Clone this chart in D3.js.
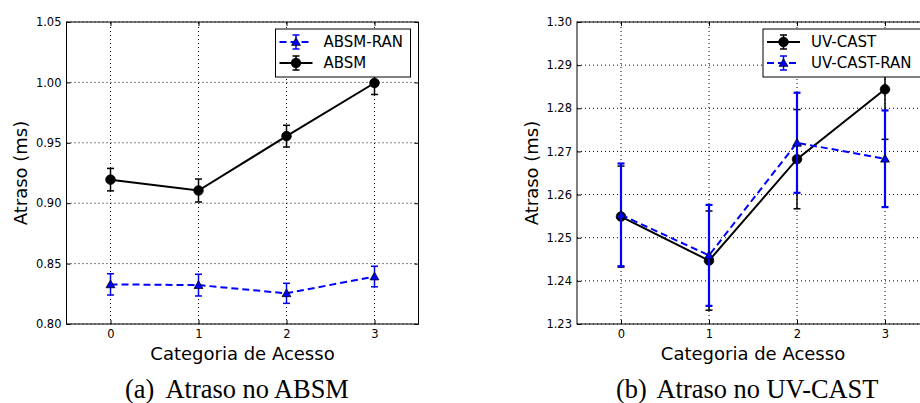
<!DOCTYPE html>
<html>
<head>
<meta charset="utf-8">
<script src="https://cdn.jsdelivr.net/npm/d3@7"></script>
<style>
  body { margin: 0; background: #fff; }
  svg { display: block; }
  .tick text { font-family: "DejaVu Sans", sans-serif; font-size: 11.5px; fill: #000; }
</style>
</head>
<body>
<div id="chart"></div>
<script>
// dados
const categories = [0, 1, 2, 3];

const yTicksA = [0.80, 0.85, 0.90, 0.95, 1.00, 1.05];
const absm = [0.9195, 0.9105, 0.9555, 0.9995];
const absmErr = [0.0093, 0.0095, 0.009, 0.0095];
const absmRan = [0.8328, 0.8322, 0.8254, 0.8393];
const absmRanErr = [0.0088, 0.009, 0.0083, 0.0085];

const yTicksB = [1.23, 1.24, 1.25, 1.26, 1.27, 1.28, 1.29, 1.30];
const uvcast = [1.2549, 1.2447, 1.2682, 1.2844];
const uvcastErr = [0.0117, 0.0115, 0.0115, 0.0116];
const uvcastRan = [1.2553, 1.2459, 1.2720, 1.2683];
const uvcastRanErr = [0.0119, 0.0117, 0.0116, 0.0112];

const width = 920;
const height = 403;
const blue = '#0000ff';

const svg = d3.select('#chart').append('svg')
    .attr('width', width)
    .attr('height', height);

svg.append('rect').attr('width', width).attr('height', height).attr('fill', '#fff');

/**
 * desenha um painel completo (eixos, grade, series, legenda)
 */
function drawPanel(p) {
  const x = d3.scaleLinear().domain([-0.5, 3.5]).range([p.left, p.left + 352]);
  const y = d3.scaleLinear().domain(p.yDomain).range([324, 22]);
  const g = svg.append('g');

  // grade pontilhada
  g.append('g').selectAll('line')
      .data(categories)
      .enter().append('line')
      .attr('x1', d => x(d)).attr('x2', d => x(d))
      .attr('y1', y.range()[0]).attr('y2', y.range()[1])
      .attr('stroke', '#000').attr('stroke-width', 1)
      .attr('stroke-dasharray', '1,3');
  g.append('g').selectAll('line')
      .data(p.yTicks)
      .enter().append('line')
      .attr('x1', x.range()[0]).attr('x2', x.range()[1])
      .attr('y1', d => y(d)).attr('y2', d => y(d))
      .attr('stroke', '#000').attr('stroke-width', 1)
      .attr('stroke-dasharray', '1,3');

  // eixos com marcas para dentro
  const fmt = d3.format('.2f');
  const axL = g.append('g').attr('transform', `translate(${x.range()[0]},0)`)
      .call(d3.axisLeft(y).tickValues(p.yTicks).tickFormat(fmt).tickSizeInner(-4).tickSizeOuter(0).tickPadding(5));
  const axR = g.append('g').attr('transform', `translate(${x.range()[1]},0)`)
      .call(d3.axisRight(y).tickValues(p.yTicks).tickFormat('').tickSizeInner(-4).tickSizeOuter(0));
  const axB = g.append('g').attr('transform', 'translate(0,324)')
      .call(d3.axisBottom(x).tickValues(categories).tickFormat(d3.format('d')).tickSizeInner(-4).tickSizeOuter(0).tickPadding(6));
  const axT = g.append('g').attr('transform', 'translate(0,22)')
      .call(d3.axisTop(x).tickValues(categories).tickFormat('').tickSizeInner(-4).tickSizeOuter(0));
  [axL, axR, axB, axT].forEach(a => {
    a.select('.domain').remove();
    a.selectAll('line').attr('stroke', '#000');
  });

  // series
  p.series.forEach(s => drawSeries(g, x, y, s));

  // moldura
  g.append('rect')
      .attr('x', x.range()[0]).attr('y', 22)
      .attr('width', 352).attr('height', 302)
      .attr('fill', 'none').attr('stroke', '#000').attr('stroke-width', 1);

  // legenda
  const lg = g.append('g').attr('transform', `translate(${p.legendX},29)`);
  lg.append('rect')
      .attr('width', p.legendW).attr('height', 48)
      .attr('fill', '#fff').attr('stroke', '#000').attr('stroke-width', 1);
  p.legend.forEach((s, i) => {
    const cy = 13 + i * 21;
    const row = lg.append('g').attr('transform', `translate(0,${cy})`);
    row.append('line')
        .attr('x1', 4).attr('x2', 37).attr('y1', 0).attr('y2', 0)
        .attr('stroke', s.color).attr('stroke-width', 2)
        .attr('stroke-dasharray', s.dash ? '7,4' : null);
    row.append('line')
        .attr('x1', 20.5).attr('x2', 20.5).attr('y1', -7).attr('y2', 7)
        .attr('stroke', s.color).attr('stroke-width', 1.5);
    [-7, 7].forEach(o => row.append('line')
        .attr('x1', 17).attr('x2', 24).attr('y1', o).attr('y2', o)
        .attr('stroke', s.color).attr('stroke-width', 1.5));
    drawMarker(row, s.marker, 20.5, 0);
    row.append('text')
        .attr('x', 48).attr('y', 0).attr('dy', '0.36em')
        .attr('font-family', 'DejaVu Sans, sans-serif')
        .attr('font-size', '15px')
        .text(s.name);
  });

  // rotulos dos eixos
  g.append('text')
      .attr('x', (x.range()[0] + x.range()[1]) / 2).attr('y', 360)
      .attr('text-anchor', 'middle')
      .attr('font-family', 'DejaVu Sans, sans-serif')
      .attr('font-size', '18px')
      .text('Categoria de Acesso');
  g.append('text')
      .attr('transform', `translate(${p.ylabelX},173) rotate(-90)`)
      .attr('text-anchor', 'middle')
      .attr('font-family', 'DejaVu Sans, sans-serif')
      .attr('font-size', '18px')
      .text('Atraso (ms)');

  // legenda da subfigura
  g.append('text')
      .attr('x', p.capX).attr('y', 398)
      .attr('font-family', 'Liberation Serif, Times New Roman, serif')
      .attr('font-size', '26.4px')
      .text(p.capTag);
  g.append('text')
      .attr('x', p.capX2).attr('y', 398)
      .attr('font-family', 'Liberation Serif, Times New Roman, serif')
      .attr('font-size', '26.4px')
      .text(p.capText);
}

function drawMarker(sel, type, cx, cy) {
  if (type === 'circle') {
    sel.append('circle')
        .attr('cx', cx).attr('cy', cy).attr('r', 4.8)
        .attr('fill', '#000').attr('stroke', '#000').attr('stroke-width', 0.8);
  } else {
    sel.append('path')
        .attr('d', d3.symbol(d3.symbolTriangle, 34)())
        .attr('transform', `translate(${cx},${cy + 0.8})`)
        .attr('fill', blue).attr('stroke', '#000').attr('stroke-width', 0.8);
  }
}

function drawSeries(g, x, y, s) {
  const pts = categories.map((c, i) => ({ c, v: s.values[i], e: s.err[i] }));
  const sg = g.append('g');

  sg.append('path')
      .datum(pts)
      .attr('d', d3.line().x(d => x(d.c)).y(d => y(d.v)))
      .attr('fill', 'none')
      .attr('stroke', s.color).attr('stroke-width', 2)
      .attr('stroke-dasharray', s.dash ? '7,4' : null);

  const eb = sg.append('g').selectAll('g')
      .data(pts)
      .enter().append('g')
      .attr('stroke', s.color).attr('stroke-width', s.errWidth);
  eb.append('line')
      .attr('x1', d => x(d.c)).attr('x2', d => x(d.c))
      .attr('y1', d => y(d.v - d.e)).attr('y2', d => y(d.v + d.e));
  eb.append('line')
      .attr('x1', d => x(d.c) - 3.5).attr('x2', d => x(d.c) + 3.5)
      .attr('y1', d => y(d.v - d.e)).attr('y2', d => y(d.v - d.e));
  eb.append('line')
      .attr('x1', d => x(d.c) - 3.5).attr('x2', d => x(d.c) + 3.5)
      .attr('y1', d => y(d.v + d.e)).attr('y2', d => y(d.v + d.e));

  pts.forEach(d => drawMarker(sg, s.marker, x(d.c), y(d.v)));
}

const sAbsm = { name: 'ABSM', values: absm, err: absmErr, color: '#000', marker: 'circle', dash: false, errWidth: 1.5 };
const sAbsmRan = { name: 'ABSM-RAN', values: absmRan, err: absmRanErr, color: blue, marker: 'triangle', dash: true, errWidth: 1.5 };
const sUv = { name: 'UV-CAST', values: uvcast, err: uvcastErr, color: '#000', marker: 'circle', dash: false, errWidth: 1.5 };
const sUvRan = { name: 'UV-CAST-RAN', values: uvcastRan, err: uvcastRanErr, color: blue, marker: 'triangle', dash: true, errWidth: 2.2 };

drawPanel({
  left: 66.5, yDomain: [0.80, 1.05], yTicks: yTicksA,
  series: [sAbsm, sAbsmRan], legend: [sAbsmRan, sAbsm],
  legendX: 275.5, legendW: 135, ylabelX: 26.5,
  capX: 125, capX2: 165.5, capTag: '(a)', capText: 'Atraso no ABSM'
});

drawPanel({
  left: 577, yDomain: [1.23, 1.30], yTicks: yTicksB,
  series: [sUv, sUvRan], legend: [sUv, sUvRan],
  legendX: 763, legendW: 165, ylabelX: 538,
  capX: 616, capX2: 656.5, capTag: '(b)', capText: 'Atraso no UV-CAST'
});
</script>
</body>
</html>
